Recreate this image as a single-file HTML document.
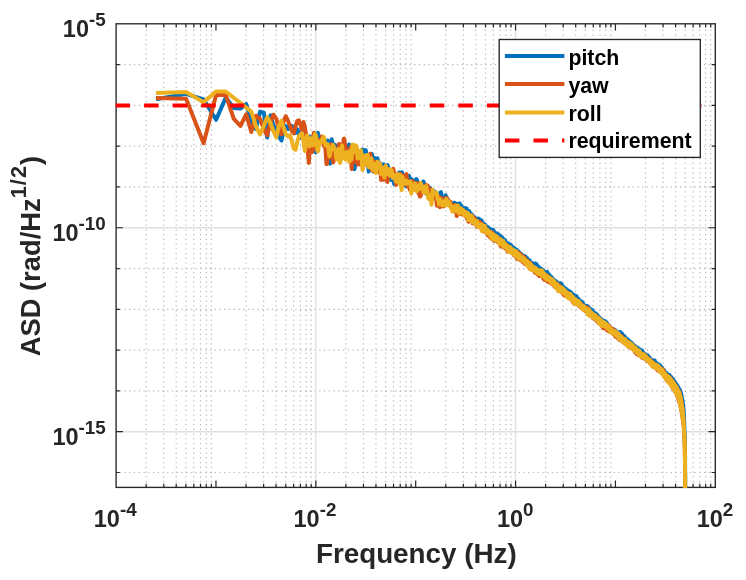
<!DOCTYPE html>
<html lang="en"><head><meta charset="utf-8"><title>ASD plot</title>
<style>html,body{margin:0;padding:0;background:#fff}svg{display:block;will-change:transform}</style></head>
<body>
<svg width="746" height="580" viewBox="0 0 746 580" font-family="'Liberation Sans', sans-serif" font-weight="bold" fill="#262626">
<rect width="746" height="580" fill="#ffffff"/>
<defs><clipPath id="ax"><rect x="115.40" y="23.10" width="600.60" height="465.00"/></clipPath></defs>
<g stroke="#b9b9b9" stroke-width="1.2" stroke-dasharray="1.3 3.45" fill="none"><line x1="146.16" y1="487.00" x2="146.16" y2="23.80"/><line x1="163.75" y1="487.00" x2="163.75" y2="23.80"/><line x1="176.23" y1="487.00" x2="176.23" y2="23.80"/><line x1="185.90" y1="487.00" x2="185.90" y2="23.80"/><line x1="193.81" y1="487.00" x2="193.81" y2="23.80"/><line x1="200.50" y1="487.00" x2="200.50" y2="23.80"/><line x1="206.29" y1="487.00" x2="206.29" y2="23.80"/><line x1="211.40" y1="487.00" x2="211.40" y2="23.80"/><line x1="246.03" y1="487.00" x2="246.03" y2="23.80"/><line x1="263.62" y1="487.00" x2="263.62" y2="23.80"/><line x1="276.09" y1="487.00" x2="276.09" y2="23.80"/><line x1="285.77" y1="487.00" x2="285.77" y2="23.80"/><line x1="293.68" y1="487.00" x2="293.68" y2="23.80"/><line x1="300.36" y1="487.00" x2="300.36" y2="23.80"/><line x1="306.16" y1="487.00" x2="306.16" y2="23.80"/><line x1="311.26" y1="487.00" x2="311.26" y2="23.80"/><line x1="345.90" y1="487.00" x2="345.90" y2="23.80"/><line x1="363.48" y1="487.00" x2="363.48" y2="23.80"/><line x1="375.96" y1="487.00" x2="375.96" y2="23.80"/><line x1="385.64" y1="487.00" x2="385.64" y2="23.80"/><line x1="393.54" y1="487.00" x2="393.54" y2="23.80"/><line x1="400.23" y1="487.00" x2="400.23" y2="23.80"/><line x1="406.02" y1="487.00" x2="406.02" y2="23.80"/><line x1="411.13" y1="487.00" x2="411.13" y2="23.80"/><line x1="445.76" y1="487.00" x2="445.76" y2="23.80"/><line x1="463.35" y1="487.00" x2="463.35" y2="23.80"/><line x1="475.83" y1="487.00" x2="475.83" y2="23.80"/><line x1="485.50" y1="487.00" x2="485.50" y2="23.80"/><line x1="493.41" y1="487.00" x2="493.41" y2="23.80"/><line x1="500.10" y1="487.00" x2="500.10" y2="23.80"/><line x1="505.89" y1="487.00" x2="505.89" y2="23.80"/><line x1="511.00" y1="487.00" x2="511.00" y2="23.80"/><line x1="545.63" y1="487.00" x2="545.63" y2="23.80"/><line x1="563.22" y1="487.00" x2="563.22" y2="23.80"/><line x1="575.69" y1="487.00" x2="575.69" y2="23.80"/><line x1="585.37" y1="487.00" x2="585.37" y2="23.80"/><line x1="593.28" y1="487.00" x2="593.28" y2="23.80"/><line x1="599.96" y1="487.00" x2="599.96" y2="23.80"/><line x1="605.76" y1="487.00" x2="605.76" y2="23.80"/><line x1="610.86" y1="487.00" x2="610.86" y2="23.80"/><line x1="645.50" y1="487.00" x2="645.50" y2="23.80"/><line x1="663.08" y1="487.00" x2="663.08" y2="23.80"/><line x1="675.56" y1="487.00" x2="675.56" y2="23.80"/><line x1="685.24" y1="487.00" x2="685.24" y2="23.80"/><line x1="693.14" y1="487.00" x2="693.14" y2="23.80"/><line x1="699.83" y1="487.00" x2="699.83" y2="23.80"/><line x1="705.62" y1="487.00" x2="705.62" y2="23.80"/><line x1="710.73" y1="487.00" x2="710.73" y2="23.80"/><line x1="116.10" y1="64.59" x2="715.30" y2="64.59" stroke-dashoffset="1.2"/><line x1="116.10" y1="105.38" x2="715.30" y2="105.38" stroke-dashoffset="1.2"/><line x1="116.10" y1="146.17" x2="715.30" y2="146.17" stroke-dashoffset="1.2"/><line x1="116.10" y1="186.96" x2="715.30" y2="186.96" stroke-dashoffset="1.2"/><line x1="116.10" y1="268.54" x2="715.30" y2="268.54" stroke-dashoffset="1.2"/><line x1="116.10" y1="309.33" x2="715.30" y2="309.33" stroke-dashoffset="1.2"/><line x1="116.10" y1="350.12" x2="715.30" y2="350.12" stroke-dashoffset="1.2"/><line x1="116.10" y1="390.91" x2="715.30" y2="390.91" stroke-dashoffset="1.2"/><line x1="116.10" y1="472.49" x2="715.30" y2="472.49" stroke-dashoffset="1.2"/></g>
<g stroke="#e0e0e0" stroke-width="1.4" fill="none"><line x1="315.83" y1="23.80" x2="315.83" y2="487.40"/><line x1="515.57" y1="23.80" x2="515.57" y2="487.40"/><line x1="116.10" y1="227.75" x2="715.30" y2="227.75"/><line x1="116.10" y1="431.70" x2="715.30" y2="431.70"/></g>
<g stroke="#262626" stroke-width="1.2" fill="none"><path d="M146.16 487.4v-3.7M146.16 23.8v3.7"/><path d="M163.75 487.4v-3.7M163.75 23.8v3.7"/><path d="M176.23 487.4v-3.7M176.23 23.8v3.7"/><path d="M185.90 487.4v-3.7M185.90 23.8v3.7"/><path d="M193.81 487.4v-3.7M193.81 23.8v3.7"/><path d="M200.50 487.4v-3.7M200.50 23.8v3.7"/><path d="M206.29 487.4v-3.7M206.29 23.8v3.7"/><path d="M211.40 487.4v-3.7M211.40 23.8v3.7"/><path d="M215.97 487.4v-6.8M215.97 23.8v6.8"/><path d="M246.03 487.4v-3.7M246.03 23.8v3.7"/><path d="M263.62 487.4v-3.7M263.62 23.8v3.7"/><path d="M276.09 487.4v-3.7M276.09 23.8v3.7"/><path d="M285.77 487.4v-3.7M285.77 23.8v3.7"/><path d="M293.68 487.4v-3.7M293.68 23.8v3.7"/><path d="M300.36 487.4v-3.7M300.36 23.8v3.7"/><path d="M306.16 487.4v-3.7M306.16 23.8v3.7"/><path d="M311.26 487.4v-3.7M311.26 23.8v3.7"/><path d="M315.83 487.4v-6.8M315.83 23.8v6.8"/><path d="M345.90 487.4v-3.7M345.90 23.8v3.7"/><path d="M363.48 487.4v-3.7M363.48 23.8v3.7"/><path d="M375.96 487.4v-3.7M375.96 23.8v3.7"/><path d="M385.64 487.4v-3.7M385.64 23.8v3.7"/><path d="M393.54 487.4v-3.7M393.54 23.8v3.7"/><path d="M400.23 487.4v-3.7M400.23 23.8v3.7"/><path d="M406.02 487.4v-3.7M406.02 23.8v3.7"/><path d="M411.13 487.4v-3.7M411.13 23.8v3.7"/><path d="M415.70 487.4v-6.8M415.70 23.8v6.8"/><path d="M445.76 487.4v-3.7M445.76 23.8v3.7"/><path d="M463.35 487.4v-3.7M463.35 23.8v3.7"/><path d="M475.83 487.4v-3.7M475.83 23.8v3.7"/><path d="M485.50 487.4v-3.7M485.50 23.8v3.7"/><path d="M493.41 487.4v-3.7M493.41 23.8v3.7"/><path d="M500.10 487.4v-3.7M500.10 23.8v3.7"/><path d="M505.89 487.4v-3.7M505.89 23.8v3.7"/><path d="M511.00 487.4v-3.7M511.00 23.8v3.7"/><path d="M515.57 487.4v-6.8M515.57 23.8v6.8"/><path d="M545.63 487.4v-3.7M545.63 23.8v3.7"/><path d="M563.22 487.4v-3.7M563.22 23.8v3.7"/><path d="M575.69 487.4v-3.7M575.69 23.8v3.7"/><path d="M585.37 487.4v-3.7M585.37 23.8v3.7"/><path d="M593.28 487.4v-3.7M593.28 23.8v3.7"/><path d="M599.96 487.4v-3.7M599.96 23.8v3.7"/><path d="M605.76 487.4v-3.7M605.76 23.8v3.7"/><path d="M610.86 487.4v-3.7M610.86 23.8v3.7"/><path d="M615.43 487.4v-6.8M615.43 23.8v6.8"/><path d="M645.50 487.4v-3.7M645.50 23.8v3.7"/><path d="M663.08 487.4v-3.7M663.08 23.8v3.7"/><path d="M675.56 487.4v-3.7M675.56 23.8v3.7"/><path d="M685.24 487.4v-3.7M685.24 23.8v3.7"/><path d="M693.14 487.4v-3.7M693.14 23.8v3.7"/><path d="M699.83 487.4v-3.7M699.83 23.8v3.7"/><path d="M705.62 487.4v-3.7M705.62 23.8v3.7"/><path d="M710.73 487.4v-3.7M710.73 23.8v3.7"/><path d="M116.1 64.59h3.7M715.3 64.59h-3.7"/><path d="M116.1 105.38h3.7M715.3 105.38h-3.7"/><path d="M116.1 146.17h3.7M715.3 146.17h-3.7"/><path d="M116.1 186.96h3.7M715.3 186.96h-3.7"/><path d="M116.1 227.75h6.8M715.3 227.75h-6.8"/><path d="M116.1 268.54h3.7M715.3 268.54h-3.7"/><path d="M116.1 309.33h3.7M715.3 309.33h-3.7"/><path d="M116.1 350.12h3.7M715.3 350.12h-3.7"/><path d="M116.1 390.91h3.7M715.3 390.91h-3.7"/><path d="M116.1 431.70h6.8M715.3 431.70h-6.8"/><path d="M116.1 472.49h3.7M715.3 472.49h-3.7"/></g>
<rect x="116.1" y="23.8" width="599.20" height="463.60" fill="none" stroke="#262626" stroke-width="1.35"/>
<g clip-path="url(#ax)">
<polyline points="156.0,99.3 186.1,93.9 203.6,99.5 216.1,119.8 225.8,97.5 233.7,108.0 240.4,108.6 246.2,104.0 251.3,121.0 255.9,129.0 260.0,111.6 263.8,112.6 267.2,137.4 270.5,115.2 273.5,126.0 276.3,129.0 278.9,136.4 281.4,140.5 283.7,131.0 285.9,126.0 288.0,129.0 290.1,127.0 292.0,126.0 293.8,129.0 295.6,133.0 297.3,129.3 297.7,129.7 298.1,130.8 298.6,132.5 299.0,134.5 299.4,136.4 299.8,137.7 300.2,137.8 300.7,136.8 301.1,135.2 301.5,133.9 301.9,133.3 302.3,133.6 302.8,134.2 303.2,134.4 303.6,133.6 304.0,132.2 304.4,131.1 304.9,131.3 305.3,133.4 305.7,137.4 306.1,142.2 306.5,145.9 307.0,147.3 307.4,146.5 307.8,144.4 308.2,141.8 308.6,139.2 309.1,137.4 309.5,136.6 309.9,136.9 310.3,138.3 310.7,140.3 311.2,142.1 311.6,142.9 312.0,142.5 312.4,141.4 312.8,140.4 313.3,140.1 313.7,141.0 314.1,143.2 314.5,146.5 314.9,149.8 315.4,152.1 315.8,152.2 316.2,149.0 316.6,143.4 317.0,137.7 317.5,134.0 317.9,132.9 318.3,134.1 318.7,136.9 319.1,140.0 319.6,141.2 320.0,140.3 320.4,138.8 320.8,138.0 321.2,138.0 321.7,138.1 322.1,138.4 322.5,139.4 322.9,140.9 323.3,142.1 323.8,143.0 324.2,143.7 324.6,144.5 325.0,145.4 325.4,146.6 325.9,148.0 326.3,148.2 326.7,146.1 327.1,142.7 327.5,140.5 328.0,141.1 328.4,144.6 328.8,150.0 329.2,156.7 329.6,162.5 330.1,163.6 330.5,157.8 330.9,148.5 331.3,141.4 331.7,139.3 332.2,141.6 332.6,146.0 333.0,149.5 333.4,150.8 333.8,150.3 334.3,148.4 334.7,145.8 335.1,144.8 335.5,146.9 335.9,150.5 336.4,151.4 336.8,148.8 337.2,146.8 337.6,147.9 338.0,151.8 338.5,155.0 338.9,154.1 339.3,151.4 339.7,150.0 340.1,149.2 340.6,148.9 341.0,151.8 341.4,156.5 341.8,156.6 342.2,151.6 342.7,147.1 343.1,145.0 343.5,146.1 343.9,149.9 344.3,151.5 344.8,148.2 345.2,145.0 345.6,146.1 346.0,149.9 346.4,151.5 346.9,151.8 347.3,153.9 347.7,153.7 348.1,149.1 348.5,145.6 349.0,144.6 349.4,146.8 349.8,152.9 350.2,155.5 350.6,151.3 351.1,146.2 351.5,145.5 351.9,148.0 352.3,149.8 352.7,150.5 353.2,152.3 353.6,159.7 354.0,169.0 354.4,169.1 354.8,167.7 355.3,161.5 355.7,158.3 356.1,156.7 356.5,156.1 356.9,153.3 357.4,151.1 357.8,152.6 358.2,156.6 358.6,157.4 359.0,154.3 359.5,151.6 359.9,151.5 360.3,153.6 360.7,158.4 361.1,159.0 361.6,156.6 362.0,152.9 362.4,149.4 362.8,150.3 363.2,156.3 363.7,159.7 364.1,155.4 364.5,153.2 364.9,152.4 365.3,150.1 365.8,150.2 366.2,153.4 366.6,157.2 367.0,160.9 367.4,164.6 367.9,164.3 368.3,166.6 368.7,171.6 369.1,167.5 369.5,159.2 370.0,159.0 370.4,160.6 370.8,156.8 371.2,154.4 371.6,153.8 372.1,154.2 372.5,156.8 372.9,163.6 373.3,171.5 373.7,171.4 374.2,163.0 374.6,158.1 375.0,159.5 375.4,162.6 375.8,163.7 376.3,161.3 376.7,159.2 377.1,159.2 377.5,158.4 377.9,160.5 378.4,165.8 378.8,169.9 379.2,167.8 379.6,162.9 380.0,165.0 380.5,168.6 380.9,168.3 381.3,167.2 381.7,166.5 382.1,168.7 382.6,168.4 383.0,165.0 383.4,164.3 383.8,165.6 384.2,168.0 384.7,172.1 385.1,175.2 385.5,178.0 385.9,177.1 386.3,172.1 386.8,167.8 387.2,165.5 387.6,165.2 388.0,166.7 388.4,168.5 388.9,168.7 389.3,170.0 389.7,170.8 390.1,170.5 390.5,173.6 391.0,179.9 391.4,179.3 391.8,172.8 392.2,170.4 392.6,171.0 393.1,174.4 393.5,180.0 393.9,182.6 394.3,184.3 394.7,182.3 395.2,176.0 395.6,173.8 396.0,175.9 396.4,178.0 396.8,178.1 397.3,180.2 397.7,183.3 398.1,182.7 398.5,177.6 398.9,172.5 399.4,172.5 399.8,177.1 400.2,177.4 400.6,174.0 401.0,173.0 401.5,172.4 401.9,172.3 402.3,174.1 402.7,175.2 403.1,177.1 403.6,179.8 404.0,180.6 404.4,181.3 404.8,181.4 405.2,180.9 405.7,183.3 406.1,186.4 406.5,185.8 406.9,184.3 407.3,181.7 407.8,181.7 408.2,180.2 408.6,176.2 409.0,175.8 409.4,179.4 409.9,178.8 410.3,178.3 410.7,180.8 411.1,182.8 411.5,182.7 412.0,180.5 412.4,179.9 412.8,181.9 413.2,182.5 413.6,184.5 414.1,188.0 414.5,188.6 414.9,185.3 415.3,182.9 415.7,180.9 416.2,179.1 416.6,179.4 417.0,180.1 417.4,181.3 417.8,184.1 418.3,188.0 418.7,192.9 419.1,190.3 419.5,184.1 419.9,183.5 420.4,184.8 420.8,187.6 421.2,190.0 421.6,191.5 422.0,191.4 422.5,189.6 422.9,184.7 423.3,181.4 423.7,181.9 424.1,183.7 424.6,185.2 425.0,187.8 425.4,192.2 425.8,193.4 426.2,193.5 426.7,193.3 427.1,192.7 427.5,189.9 427.9,188.8 428.3,188.8 428.8,192.0 429.2,192.9 429.6,188.3 430.0,187.8 430.4,189.9 430.9,189.8 431.3,190.0 431.7,193.6 432.1,196.0 432.5,196.9 433.0,193.6 433.4,190.8 433.8,191.9 434.2,194.1 434.6,191.6 435.1,192.4 435.5,196.2 435.9,198.9 436.3,196.4 436.7,195.4 437.2,198.1 437.6,197.4 438.0,195.3 438.4,195.1 438.8,193.7 439.3,193.8 439.7,195.3 440.1,196.7 440.5,192.4 440.9,192.2 441.4,195.4 441.8,199.6 442.2,201.7 442.6,202.6 443.0,198.5 443.5,199.5 443.9,201.1 444.3,204.0 444.7,200.9 445.1,197.5 445.6,195.3 446.0,196.7 446.4,196.9 446.8,200.3 447.2,199.5 447.7,200.0 448.1,199.9 448.5,203.9 448.9,202.1 449.3,202.8 449.8,202.1 450.2,203.9 450.6,204.1 451.0,206.8 451.4,203.3 451.9,205.3 452.3,205.3 452.7,207.6 453.1,205.1 453.5,205.2 454.0,202.8 454.4,204.1 454.8,202.8 455.2,205.8 455.6,205.5 456.1,206.9 456.5,203.8 456.9,205.2 457.3,204.6 457.7,208.9 458.2,205.8 458.6,206.7 459.0,203.5 459.4,205.4 459.8,203.5 460.3,207.9 460.7,206.5 461.1,208.1 461.5,205.8 461.9,208.1 462.4,208.3 462.8,210.7 463.2,210.0 463.6,213.2 464.0,209.7 464.5,209.8 464.9,208.1 465.3,211.3 465.7,208.3 466.1,211.0 466.6,208.4 467.0,212.3 467.4,211.5 467.8,215.1 468.2,212.6 468.7,216.0 469.1,211.1 469.5,215.0 469.9,212.9 470.3,216.2 470.8,213.3 471.2,218.7 471.6,217.6 472.0,220.2 472.4,215.1 472.9,219.1 473.3,217.1 473.7,219.3 474.1,218.0 474.5,219.7 475.0,217.7 475.4,219.3 475.8,218.8 476.2,222.8 476.6,219.4 477.1,221.8 477.5,219.7 477.9,222.4 478.3,218.5 478.7,222.8 479.2,219.8 479.6,223.0 480.0,219.6 480.4,223.6 480.8,221.3 481.3,225.2 481.7,220.6 482.1,225.4 482.5,223.0 482.9,226.5 483.4,223.3 483.8,227.7 484.2,225.8 484.6,230.0 485.0,224.6 485.5,229.6 485.9,225.8 486.3,230.3 486.7,227.3 487.1,231.6 487.6,227.1 488.0,231.6 488.4,227.6 488.8,232.0 489.2,229.1 489.7,233.0 490.1,229.1 490.5,233.0 490.9,229.2 491.3,235.3 491.8,230.9 492.2,235.4 492.6,230.9 493.0,237.5 493.4,230.1 493.9,236.2 494.3,231.8 494.7,237.6 495.1,233.8 495.5,236.8 496.0,233.2 496.4,236.2 496.8,233.7 497.2,237.7 497.6,233.5 498.1,239.1 498.5,234.7 498.9,239.9 499.3,235.1 499.7,241.3 500.2,235.8 500.6,241.5 501.0,237.0 501.4,241.7 501.8,236.9 502.3,241.9 502.7,238.0 503.1,242.7 503.5,239.3 503.9,242.8 504.4,240.2 504.8,244.0 505.2,240.3 505.6,245.6 506.0,242.5 506.5,246.1 506.9,243.1 507.3,246.8 507.7,243.2 508.1,246.4 508.6,243.5 509.0,247.5 509.4,244.3 509.8,248.7 510.2,244.6 510.7,247.8 511.1,245.3 511.5,248.8 511.9,246.9 512.3,250.0 512.8,247.1 513.2,250.6 513.6,247.8 514.0,251.4 514.4,248.6 514.9,251.9 515.3,249.0 515.7,252.5 516.1,250.0 516.5,253.8 517.0,250.1 517.4,255.1 517.8,251.3 518.2,254.8 518.6,251.6 519.1,255.4 519.5,252.5 519.9,256.5 520.3,253.8 520.7,257.8 521.2,253.9 521.6,258.9 522.0,255.0 522.4,259.7 522.8,255.4 523.3,260.6 523.7,255.7 524.1,260.1 524.5,256.2 524.9,260.8 525.4,256.6 525.8,261.8 526.2,257.7 526.6,262.1 527.0,258.1 527.5,263.0 527.9,259.2 528.3,262.9 528.7,260.1 529.1,263.6 529.6,260.2 530.0,263.7 530.4,261.9 530.8,265.3 531.2,262.6 531.7,265.8 532.1,263.0 532.5,266.5 532.9,263.3 533.3,267.7 533.8,263.7 534.2,268.2 534.6,263.7 535.0,268.4 535.4,263.6 535.9,268.5 536.3,264.1 536.7,269.4 537.1,264.9 537.5,270.6 538.0,266.2 538.4,271.8 538.8,266.9 539.2,271.7 539.6,268.1 540.1,271.8 540.5,269.0 540.9,271.7 541.3,268.7 541.7,272.3 542.2,269.6 542.6,272.7 543.0,269.9 543.4,273.9 543.8,270.9 544.3,274.6 544.7,272.0 545.1,276.1 545.5,272.3 545.9,276.1 546.4,272.0 546.8,277.5 547.2,272.0 547.6,277.6 548.0,274.0 548.5,278.1 548.9,274.3 549.3,278.5 549.7,275.2 550.1,279.7 550.6,276.4 551.0,280.8 551.4,277.0 551.8,281.4 552.2,277.8 552.7,282.5 553.1,279.3 553.5,283.1 553.9,280.1 554.3,283.8 554.8,280.4 555.2,284.2 555.6,281.7 556.0,285.4 556.4,281.5 556.9,286.2 557.3,282.6 557.7,287.0 558.1,283.4 558.5,288.3 559.0,283.6 559.4,287.8 559.8,283.8 560.2,289.1 560.6,283.3 561.1,289.2 561.5,284.0 561.9,289.5 562.3,285.5 562.7,290.6 563.2,286.4 563.6,290.7 564.0,287.4 564.4,291.8 564.8,288.3 565.3,292.9 565.7,288.5 566.1,293.2 566.5,289.8 566.9,294.2 567.4,290.3 567.8,294.3 568.2,290.6 568.6,295.1 569.0,290.9 569.5,296.0 569.9,292.4 570.3,295.6 570.7,292.1 571.1,296.4 571.6,293.0 572.0,297.4 572.4,294.0 572.8,298.6 573.2,294.6 573.7,298.9 574.1,295.5 574.5,300.2 574.9,295.6 575.3,300.3 575.8,296.4 576.2,301.2 576.6,296.3 577.0,302.0 577.4,297.9 577.9,302.3 578.3,298.8 578.7,303.4 579.1,299.5 579.5,303.3 580.0,300.6 580.4,304.4 580.8,301.3 581.2,305.8 581.6,301.7 582.1,305.2 582.5,302.2 582.9,306.6 583.3,304.0 583.7,306.7 584.2,305.1 584.6,307.7 585.0,305.9 585.4,309.1 585.8,306.4 586.3,310.1 586.7,305.8 587.1,310.7 587.5,306.2 587.9,311.1 588.4,306.8 588.8,311.5 589.2,308.1 589.6,311.7 590.0,309.3 590.5,312.9 590.9,309.2 591.3,314.4 591.7,310.0 592.1,315.0 592.6,310.3 593.0,315.7 593.4,312.0 593.8,315.3 594.2,312.8 594.7,316.2 595.1,313.3 595.5,317.2 595.9,313.6 596.3,317.7 596.8,314.4 597.2,318.4 597.6,315.2 598.0,319.4 598.4,316.9 598.9,320.3 599.3,317.4 599.7,321.3 600.1,318.3 600.5,322.6 601.0,319.4 601.4,323.4 601.8,319.4 602.2,324.2 602.6,320.2 603.1,324.4 603.5,321.2 603.9,324.1 604.3,320.9 604.7,324.3 605.2,321.3 605.6,324.7 606.0,322.0 606.4,325.3 606.8,322.7 607.3,326.2 607.7,324.3 608.1,328.2 608.5,325.8 608.9,329.2 609.4,326.4 609.8,329.8 610.2,327.5 610.6,330.1 611.0,328.7 611.5,331.4 611.9,328.9 612.3,332.3 612.7,329.2 613.1,332.9 613.6,329.2 614.0,334.2 614.4,330.1 614.8,334.4 615.2,330.2 615.7,335.0 616.1,331.1 616.5,335.1 616.9,331.6 617.3,335.3 617.8,332.5 618.2,336.1 618.6,332.5 619.0,336.3 619.4,332.3 619.9,335.8 620.3,332.1 620.7,336.7 621.1,333.0 621.5,336.8 622.0,333.4 622.4,337.2 622.8,335.0 623.2,337.9 623.6,336.3 624.1,339.3 624.5,336.2 624.9,340.3 625.3,337.6 625.7,341.1 626.2,338.4 626.6,342.0 627.0,339.1 627.4,342.4 627.8,339.7 628.3,343.7 628.7,340.6 629.1,343.8 629.5,341.3 629.9,344.4 630.4,342.0 630.8,345.5 631.2,342.6 631.6,346.2 632.0,343.3 632.5,347.0 632.9,344.3 633.3,348.9 633.7,345.4 634.1,349.4 634.6,345.8 635.0,349.3 635.4,346.4 635.8,350.4 636.2,347.1 636.7,350.6 637.1,347.6 637.5,351.3 637.9,348.1 638.3,351.8 638.8,349.2 639.2,351.6 639.6,349.1 640.0,352.6 640.4,350.1 640.9,353.6 641.3,350.4 641.7,354.3 642.1,350.6 642.5,355.1 643.0,352.3 643.4,356.5 643.8,353.3 644.2,356.5 644.6,353.8 645.1,357.2 645.5,354.5 645.9,358.2 646.3,355.0 646.7,358.2 647.2,355.2 647.6,358.6 648.0,355.7 648.4,359.5 648.8,356.7 649.3,360.5 649.7,357.8 650.1,361.9 650.5,359.2 650.9,362.9 651.4,359.9 651.8,363.0 652.2,360.3 652.6,364.3 653.0,360.3 653.5,363.9 653.9,360.4 654.3,364.3 654.7,360.6 655.1,365.7 655.6,362.3 656.0,365.6 656.4,362.9 656.8,366.4 657.2,363.8 657.7,367.5 658.1,364.2 658.5,368.6 658.9,364.4 659.3,368.9 659.8,364.9 660.2,369.7 660.6,366.1 661.0,370.1 661.4,366.8 661.9,370.8 662.3,368.1 662.7,371.6 663.1,369.6 663.5,372.2 664.0,370.2 664.4,372.9 664.8,371.9 665.2,375.1 665.6,372.7 666.1,375.6 666.5,373.0 666.9,376.5 669.4,374.9 667.2,377.5 669.8,375.8 667.7,378.2 670.5,376.5 668.4,378.8 671.1,377.2 668.9,379.5 671.8,377.7 669.5,380.2 672.2,378.7 670.0,380.9 673.0,379.3 670.5,381.7 673.3,380.2 671.2,382.3 674.0,380.9 671.7,383.1 674.6,381.6 672.3,383.7 674.9,382.4 672.7,384.5 675.6,383.1 673.2,385.3 675.9,384.0 673.5,386.2 676.6,384.6 674.2,386.8 677.1,385.4 674.7,387.6 677.6,386.1 675.3,388.2 678.1,387.0 675.5,389.2 678.6,387.8 676.3,389.7 679.0,388.6 676.7,390.5 679.4,389.4 677.2,391.3 680.1,390.2 677.7,392.0 680.2,391.3 677.8,393.0 680.8,392.2 678.4,393.7 681.1,393.2 678.8,394.5 681.3,394.1 679.1,395.3 681.4,395.1 679.2,396.2 681.7,396.0 679.6,397.1 681.8,396.9 679.6,398.0 681.9,397.9 680.1,398.8 682.2,398.7 680.3,399.7 682.4,399.6 680.6,400.5 682.6,400.5 680.8,401.4 682.7,401.4 680.8,402.3 682.8,402.3 681.3,403.1 682.9,403.2 681.4,404.0 682.9,404.2 681.5,404.9 683.2,405.1 681.6,405.8 683.2,406.0 681.8,406.7 683.3,406.9 682.0,407.6 683.3,407.9 682.2,408.5 683.5,408.7 682.3,409.4 683.6,409.6 682.5,410.2 683.6,410.6 682.6,411.1 683.7,411.5 682.8,412.0 683.7,412.4 682.9,412.9 683.7,413.3 683.0,413.8 683.8,414.2 683.1,414.7 683.9,415.1 683.2,415.6 683.9,416.0 683.3,416.5 684.0,416.9 683.4,417.4 684.0,417.8 683.5,418.3 684.0,418.7 683.7,419.2 684.1,419.6 683.8,420.1 684.1,420.5 683.8,421.0 684.2,421.4 683.9,421.9 684.2,422.3 684.0,422.8 684.3,423.2 684.0,423.7 684.3,424.1 684.1,424.6 684.3,425.0 684.2,425.5 684.4,425.9 684.3,426.4 684.4,426.8 684.3,427.3 684.4,427.7 684.4,428.2 684.4,428.6 684.4,429.1 684.5,429.5 684.5,430.0 684.5,430.4 684.5,430.9 684.5,431.3 684.5,431.8 684.6,432.2 684.6,432.7 684.6,433.1 684.6,433.6 684.6,434.0 684.7,434.5 684.7,434.9 684.7,435.4 684.7,435.8 684.7,436.3 684.7,436.7 684.7,437.2 684.8,437.6 684.8,438.1 684.8,438.5 684.8,439.0 684.8,439.4 684.8,439.9 684.8,440.3 684.8,440.8 684.9,441.2 684.9,441.7 684.9,442.1 684.9,442.6 684.9,443.0 684.9,443.5 684.9,443.9 684.9,444.4 684.9,444.8 684.9,445.3 684.9,445.7 684.9,446.2 684.9,446.6 685.0,447.1 685.0,447.5 685.0,448.0 685.0,448.4 685.0,448.9 685.0,449.3 685.0,449.8 685.0,450.2 685.0,450.7 685.0,451.1 685.0,451.6 685.0,452.0 685.0,452.5 685.0,452.9 685.0,453.4 685.0,453.8 685.0,454.3 685.0,454.7 685.1,455.2 685.1,455.6 685.1,456.1 685.1,456.5 685.1,457.0 685.1,457.4 685.1,457.9 685.1,458.3 685.1,458.8 685.1,459.2 685.1,459.7 685.1,460.1 685.1,460.6 685.1,461.0 685.1,461.5 685.1,461.9 685.1,462.4 685.1,462.8 685.1,463.3 685.1,463.7 685.1,464.2 685.1,464.6 685.1,465.1 685.1,465.5 685.1,466.0 685.1,466.4 685.1,466.9 685.1,467.3 685.1,467.8 685.1,468.2 685.1,468.7 685.1,469.1 685.1,469.6 685.1,470.0 685.1,470.5 685.1,470.9 685.1,471.4 685.2,471.8 685.2,472.3 685.2,472.7 685.2,473.2 685.2,473.6 685.2,474.1 685.2,474.5 685.2,475.0 685.2,475.4 685.2,475.9 685.2,476.3 685.2,476.8 685.2,477.2 685.2,477.7 685.2,478.1 685.2,478.6 685.2,479.0 685.2,479.5 685.2,479.9 685.2,480.4 685.2,480.8 685.2,481.3 685.2,481.7 685.2,482.2 685.2,482.6 685.2,483.1 685.2,483.5 685.2,484.0 685.2,484.4 685.2,484.9 685.2,485.3 685.2,485.8 685.2,486.2 685.2,486.7 685.2,487.1 685.2,487.6 685.2,488.0 685.2,488.5 685.2,488.9 685.2,489.4 685.2,489.8 685.2,490.3 685.2,490.7 685.2,491.2 685.2,491.6 685.2,492.1 685.2,492.5 685.2,493.0 685.2,493.4 685.2,493.9 685.2,494.3 685.2,494.8 685.2,495.2 685.2,495.7 685.2,496.1 685.2,496.6 685.2,497.0 685.2,497.5 685.2,497.9 685.2,498.4 685.2,498.8 685.2,499.1 685.2,499.4" fill="none" stroke="#0072BD" stroke-width="4.0" stroke-linejoin="round" stroke-linecap="butt"/>
<polyline points="156.0,98.1 186.1,98.7 203.6,143.3 216.1,95.1 225.8,95.0 233.7,118.6 240.4,126.0 246.2,114.3 251.3,132.0 255.9,115.7 260.0,118.8 263.8,129.0 267.2,135.3 270.5,121.9 273.5,114.7 276.3,118.8 278.9,129.0 281.4,134.3 283.7,120.9 285.9,116.2 288.0,120.9 290.1,126.0 292.0,131.2 293.8,133.3 295.6,126.0 297.3,120.9 298.9,120.3 300.5,125.0 302.0,130.2 303.5,122.0 304.9,127.0 306.3,136.0 307.6,150.0 308.9,163.0 310.2,141.0 311.4,149.7 311.8,152.1 312.3,151.5 312.7,146.8 313.1,139.9 313.5,134.6 313.9,132.7 314.4,134.3 314.8,138.2 315.2,142.8 315.6,146.5 316.0,148.6 316.5,149.1 316.9,148.4 317.3,147.3 317.7,146.1 318.1,144.6 318.6,142.4 319.0,140.6 319.4,140.0 319.8,140.7 320.2,141.9 320.7,141.9 321.1,140.2 321.5,137.8 321.9,136.5 322.3,137.1 322.8,139.5 323.2,142.8 323.6,145.3 324.0,146.1 324.4,145.8 324.9,145.9 325.3,147.9 325.7,152.5 326.1,159.0 326.5,164.1 327.0,163.9 327.4,159.6 327.8,156.0 328.2,155.7 328.6,157.3 329.1,157.8 329.5,155.6 329.9,151.2 330.3,147.0 330.7,144.7 331.2,144.2 331.6,144.8 332.0,146.9 332.4,151.7 332.8,158.3 333.3,162.4 333.7,160.4 334.1,155.9 334.5,155.1 334.9,157.6 335.4,158.0 335.8,154.4 336.2,151.2 336.6,151.1 337.0,152.9 337.5,154.4 337.9,153.4 338.3,149.4 338.7,145.4 339.1,144.0 339.6,145.8 340.0,149.9 340.4,153.3 340.8,153.9 341.2,151.5 341.7,146.9 342.1,144.6 342.5,146.1 342.9,146.3 343.3,142.3 343.8,138.7 344.2,138.6 344.6,141.9 345.0,144.6 345.4,145.7 345.9,150.4 346.3,153.9 346.7,151.7 347.1,152.8 347.5,154.5 348.0,152.4 348.4,150.6 348.8,151.2 349.2,157.6 349.6,161.7 350.1,154.1 350.5,146.9 350.9,149.2 351.3,163.5 351.7,168.9 352.2,159.4 352.6,155.4 353.0,157.5 353.4,157.0 353.8,151.9 354.3,149.0 354.7,147.9 355.1,151.4 355.5,156.8 355.9,162.2 356.4,160.2 356.8,153.2 357.2,150.2 357.6,154.2 358.0,164.6 358.5,164.6 358.9,155.2 359.3,152.4 359.7,156.0 360.1,157.5 360.6,157.2 361.0,159.7 361.4,162.5 361.8,162.8 362.2,162.8 362.7,161.8 363.1,160.3 363.5,160.5 363.9,162.8 364.3,162.3 364.8,160.5 365.2,160.3 365.6,160.2 366.0,161.7 366.4,164.8 366.9,162.5 367.3,157.3 367.7,157.6 368.1,159.0 368.5,159.1 369.0,161.0 369.4,160.4 369.8,156.4 370.2,153.7 370.6,155.7 371.1,164.1 371.5,169.8 371.9,162.8 372.3,159.6 372.7,166.0 373.2,171.3 373.6,170.9 374.0,168.7 374.4,169.1 374.8,166.3 375.3,162.1 375.7,162.6 376.1,164.5 376.5,166.4 376.9,169.9 377.4,170.8 377.8,171.2 378.2,171.2 378.6,171.6 379.0,167.8 379.5,163.2 379.9,165.7 380.3,170.9 380.7,174.6 381.1,179.9 381.6,178.2 382.0,171.8 382.4,171.3 382.8,172.6 383.2,174.4 383.7,179.8 384.1,179.2 384.5,172.5 384.9,167.5 385.3,166.3 385.8,168.7 386.2,172.0 386.6,174.0 387.0,180.6 387.4,182.0 387.9,172.9 388.3,171.8 388.7,176.6 389.1,175.4 389.5,171.8 390.0,172.6 390.4,175.2 390.8,175.4 391.2,172.6 391.6,172.4 392.1,174.5 392.5,175.3 392.9,172.0 393.3,168.8 393.7,170.9 394.2,176.4 394.6,177.1 395.0,176.9 395.4,178.6 395.8,182.2 396.3,184.8 396.7,183.5 397.1,183.3 397.5,182.2 397.9,178.1 398.4,174.8 398.8,176.7 399.2,180.2 399.6,178.9 400.0,176.8 400.5,175.2 400.9,173.8 401.3,175.0 401.7,176.7 402.1,175.5 402.6,176.5 403.0,182.3 403.4,185.0 403.8,181.5 404.2,180.4 404.7,183.7 405.1,181.6 405.5,176.2 405.9,174.4 406.3,174.0 406.8,176.5 407.2,185.1 407.6,186.2 408.0,180.5 408.4,181.7 408.9,184.4 409.3,186.9 409.7,189.8 410.1,189.3 410.5,185.7 411.0,185.0 411.4,189.5 411.8,190.0 412.2,183.2 412.6,181.1 413.1,181.9 413.5,182.4 413.9,185.1 414.3,189.3 414.7,189.4 415.2,187.0 415.6,185.7 416.0,185.9 416.4,187.1 416.8,185.0 417.3,183.1 417.7,184.7 418.1,189.5 418.5,193.3 418.9,191.2 419.4,191.9 419.8,196.6 420.2,196.4 420.6,196.2 421.0,194.9 421.5,191.2 421.9,188.2 422.3,188.2 422.7,187.3 423.1,186.9 423.6,189.3 424.0,190.9 424.4,192.0 424.8,190.3 425.2,186.6 425.7,186.2 426.1,185.1 426.5,185.2 426.9,187.3 427.3,186.8 427.8,185.7 428.2,188.8 428.6,194.3 429.0,198.7 429.4,197.7 429.9,192.1 430.3,189.1 430.7,191.2 431.1,195.4 431.5,198.4 432.0,198.7 432.4,197.3 432.8,195.3 433.2,193.8 433.6,194.4 434.1,197.7 434.5,196.9 434.9,193.7 435.3,193.2 435.7,196.0 436.2,198.8 436.6,202.7 437.0,205.8 437.4,201.1 437.8,196.2 438.3,196.2 438.7,196.3 439.1,198.4 439.5,201.8 439.9,207.2 440.4,206.8 440.8,202.5 441.2,198.2 441.6,199.2 442.0,198.2 442.5,200.1 442.9,201.5 443.3,204.9 443.7,206.4 444.1,204.5 444.6,200.5 445.0,202.0 445.4,201.2 445.8,200.0 446.2,197.8 446.7,199.5 447.1,198.3 447.5,199.3 447.9,200.6 448.3,204.2 448.8,203.4 449.2,204.9 449.6,202.6 450.0,202.8 450.4,201.7 450.9,205.9 451.3,205.9 451.7,207.8 452.1,206.4 452.5,208.6 453.0,209.0 453.4,208.9 453.8,204.8 454.2,207.0 454.6,205.2 455.1,206.5 455.5,205.1 455.9,211.7 456.3,212.1 456.7,216.1 457.2,215.1 457.6,214.3 458.0,208.7 458.4,211.1 458.8,209.9 459.3,213.4 459.7,212.3 460.1,213.8 460.5,208.8 460.9,210.2 461.4,210.2 461.8,214.6 462.2,211.5 462.6,213.6 463.0,209.9 463.5,214.5 463.9,211.5 464.3,213.7 464.7,212.0 465.1,216.1 465.6,214.2 466.0,216.1 466.4,213.6 466.8,218.5 467.2,215.9 467.7,218.5 468.1,217.4 468.5,221.8 468.9,215.5 469.3,219.0 469.8,215.4 470.2,220.0 470.6,216.7 471.0,218.4 471.4,215.6 471.9,219.7 472.3,216.9 472.7,223.4 473.1,220.1 473.5,220.9 474.0,217.5 474.4,220.8 474.8,219.5 475.2,223.1 475.6,219.7 476.1,224.6 476.5,220.3 476.9,226.5 477.3,221.5 477.7,226.0 478.2,221.7 478.6,226.5 479.0,221.4 479.4,226.4 479.8,222.2 480.3,227.5 480.7,222.7 481.1,228.2 481.5,224.3 481.9,228.4 482.4,224.1 482.8,231.2 483.2,225.7 483.6,231.4 484.0,227.5 484.5,231.1 484.9,226.2 485.3,231.8 485.7,228.7 486.1,232.6 486.6,229.0 487.0,233.8 487.4,230.7 487.8,235.4 488.2,230.3 488.7,235.4 489.1,232.2 489.5,236.2 489.9,232.0 490.3,237.8 490.8,232.2 491.2,236.9 491.6,233.4 492.0,239.1 492.4,232.4 492.9,239.1 493.3,234.1 493.7,240.7 494.1,235.4 494.5,241.0 495.0,236.1 495.4,240.4 495.8,237.1 496.2,240.3 496.6,236.7 497.1,241.3 497.5,237.3 497.9,242.3 498.3,238.4 498.7,242.5 499.2,238.6 499.6,243.7 500.0,240.6 500.4,245.9 500.8,240.4 501.3,244.7 501.7,241.4 502.1,246.7 502.5,242.1 502.9,246.7 503.4,242.2 503.8,247.5 504.2,243.1 504.6,247.6 505.0,243.7 505.5,248.6 505.9,244.4 506.3,249.1 506.7,245.1 507.1,250.5 507.6,245.8 508.0,251.7 508.4,246.4 508.8,251.0 509.2,246.9 509.7,250.5 510.1,248.0 510.5,251.3 510.9,249.1 511.3,251.9 511.8,250.3 512.2,253.1 512.6,251.1 513.0,254.0 513.4,251.8 513.9,255.2 514.3,252.0 514.7,255.7 515.1,252.5 515.5,256.2 516.0,252.0 516.4,257.7 516.8,252.6 517.2,259.0 517.6,252.0 518.1,258.1 518.5,253.1 518.9,259.0 519.3,253.3 519.7,259.2 520.2,255.4 520.6,260.3 521.0,254.6 521.4,260.2 521.8,255.8 522.3,261.5 522.7,256.6 523.1,262.4 523.5,256.7 523.9,262.8 524.4,257.6 524.8,263.9 525.2,258.8 525.6,264.1 526.0,259.7 526.5,264.4 526.9,260.4 527.3,265.2 527.7,260.8 528.1,265.7 528.6,262.0 529.0,266.4 529.4,262.6 529.8,268.7 530.2,262.8 530.7,268.7 531.1,264.3 531.5,269.0 531.9,266.0 532.3,269.9 532.8,266.4 533.2,270.5 533.6,266.9 534.0,270.6 534.4,267.4 534.9,272.8 535.3,268.5 535.7,272.4 536.1,269.3 536.5,273.2 537.0,270.0 537.4,274.4 537.8,270.9 538.2,274.8 538.6,270.4 539.1,276.2 539.5,270.8 539.9,275.0 540.3,271.4 540.7,275.5 541.2,270.9 541.6,276.1 542.0,272.0 542.4,276.8 542.8,272.7 543.3,278.5 543.7,273.5 544.1,279.6 544.5,273.7 544.9,280.1 545.4,274.6 545.8,279.7 546.2,275.3 546.6,280.4 547.0,275.6 547.5,281.5 547.9,276.0 548.3,281.9 548.7,277.4 549.1,282.0 549.6,278.7 550.0,282.8 550.4,279.5 550.8,283.1 551.2,280.4 551.7,283.9 552.1,280.2 552.5,284.6 552.9,281.4 553.3,285.1 553.8,281.7 554.2,286.3 554.6,282.4 555.0,287.2 555.4,283.8 555.9,287.5 556.3,283.4 556.7,287.9 557.1,284.4 557.5,288.1 558.0,284.7 558.4,288.4 558.8,285.1 559.2,289.4 559.6,285.8 560.1,290.6 560.5,286.7 560.9,291.4 561.3,287.4 561.7,292.2 562.2,288.4 562.6,292.8 563.0,289.4 563.4,294.4 563.8,291.1 564.3,295.6 564.7,291.4 565.1,295.8 565.5,292.0 565.9,296.0 566.4,292.5 566.8,296.5 567.2,293.2 567.6,296.0 568.0,293.3 568.5,296.9 568.9,293.3 569.3,297.6 569.7,294.0 570.1,298.1 570.6,295.2 571.0,299.1 571.4,296.6 571.8,300.3 572.2,297.6 572.7,302.0 573.1,298.5 573.5,302.4 573.9,298.5 574.3,303.8 574.8,298.9 575.2,303.2 575.6,299.6 576.0,303.7 576.4,300.2 576.9,303.9 577.3,301.1 577.7,304.1 578.1,301.6 578.5,305.3 579.0,302.4 579.4,306.3 579.8,302.6 580.2,307.2 580.6,303.9 581.1,307.6 581.5,304.8 581.9,308.1 582.3,305.1 582.7,309.4 583.2,306.3 583.6,309.9 584.0,306.8 584.4,310.4 584.8,307.5 585.3,311.2 585.7,308.1 586.1,311.6 586.5,307.2 586.9,311.3 587.4,307.4 587.8,312.2 588.2,308.2 588.6,313.0 589.0,309.4 589.5,314.1 589.9,311.0 590.3,315.7 590.7,311.9 591.1,316.3 591.6,313.2 592.0,316.5 592.4,314.7 592.8,318.0 593.2,314.9 593.7,318.2 594.1,315.0 594.5,319.3 594.9,315.2 595.3,319.4 595.8,316.0 596.2,320.0 596.6,316.0 597.0,321.4 597.4,316.9 597.9,322.1 598.3,318.2 598.7,323.1 599.1,319.3 599.5,323.5 600.0,321.1 600.4,324.3 600.8,321.2 601.2,325.6 601.6,322.1 602.1,326.5 602.5,323.0 602.9,327.9 603.3,323.4 603.7,327.8 604.2,323.9 604.6,328.6 605.0,324.5 605.4,328.6 605.8,324.8 606.3,328.9 606.7,325.2 607.1,330.1 607.5,325.6 607.9,330.8 608.4,325.2 608.8,331.4 609.2,326.1 609.6,331.1 610.0,327.3 610.5,331.7 610.9,328.0 611.3,331.8 611.7,328.5 612.1,332.5 612.6,329.5 613.0,333.5 613.4,329.5 613.8,334.6 614.2,330.3 614.7,335.4 615.1,331.3 615.5,336.8 615.9,331.9 616.3,336.6 616.8,333.8 617.2,337.2 617.6,334.6 618.0,338.6 618.4,334.9 618.9,338.3 619.3,335.5 619.7,340.1 620.1,336.0 620.5,339.8 621.0,336.0 621.4,340.5 621.8,336.2 622.2,341.4 622.6,337.5 623.1,341.7 623.5,338.4 623.9,342.8 624.3,339.1 624.7,343.1 625.2,340.0 625.6,344.2 626.0,341.0 626.4,344.7 626.8,341.4 627.3,345.2 627.7,341.8 628.1,345.8 628.5,342.3 628.9,346.9 629.4,342.8 629.8,347.4 630.2,343.7 630.6,347.7 631.0,344.1 631.5,347.9 631.9,344.9 632.3,348.8 632.7,345.5 633.1,348.8 633.6,346.0 634.0,350.1 634.4,347.3 634.8,352.0 635.2,348.9 635.7,352.7 636.1,350.0 636.5,353.8 636.9,351.2 637.3,354.4 637.8,351.3 638.2,354.8 638.6,351.7 639.0,355.2 639.4,352.2 639.9,355.5 640.3,352.4 640.7,356.4 641.1,353.1 641.5,357.0 642.0,353.9 642.4,358.0 642.8,354.1 643.2,357.8 643.6,355.0 644.1,358.4 644.5,354.8 644.9,359.0 645.3,356.3 645.7,358.9 646.2,356.2 646.6,360.1 647.0,357.9 647.4,361.2 647.8,358.5 648.3,361.4 648.7,358.6 649.1,361.7 649.5,360.0 649.9,363.3 650.4,360.4 650.8,363.4 651.2,360.7 651.6,364.9 652.0,361.7 652.5,366.6 652.9,362.2 653.3,366.8 653.7,362.9 654.1,366.8 654.6,364.4 655.0,367.4 655.4,365.2 655.8,368.2 656.2,366.0 656.7,369.3 657.1,366.3 657.5,370.2 657.9,366.9 658.3,370.7 658.8,367.5 659.2,371.3 659.6,368.3 660.0,371.0 660.4,368.7 660.9,371.6 661.3,368.8 661.7,373.2 662.1,369.6 662.5,373.2 663.0,369.6 663.4,374.3 663.8,371.8 664.2,375.4 664.6,373.2 665.1,376.2 665.5,374.0 665.9,377.3 666.3,375.5 666.7,378.8 668.1,376.1 665.7,378.7 668.6,376.9 666.4,379.3 669.4,377.4 666.7,380.2 669.8,378.2 667.2,380.9 670.3,379.0 667.9,381.5 671.2,379.4 668.6,382.1 671.8,380.2 669.2,382.7 672.0,381.2 669.7,383.4 672.7,381.8 670.2,384.1 673.2,382.6 670.7,384.9 673.9,383.1 671.2,385.6 674.2,384.0 671.7,386.3 674.8,384.7 672.2,387.1 675.3,385.5 672.8,387.8 675.6,386.4 673.2,388.5 676.1,387.1 673.5,389.4 676.9,387.7 674.3,389.9 677.4,388.5 674.5,390.8 677.6,389.5 675.0,391.5 678.0,390.3 675.7,392.1 678.8,390.9 676.1,392.8 679.2,391.8 676.5,393.5 679.4,392.8 676.5,394.4 679.8,393.6 677.0,395.1 679.8,394.6 677.4,395.9 680.2,395.4 677.6,396.7 680.5,396.3 678.1,397.5 680.7,397.2 678.1,398.4 680.8,398.1 678.7,399.1 680.9,399.0 678.7,400.0 681.1,399.9 678.9,400.9 681.1,400.9 679.2,401.8 681.5,401.7 679.6,402.6 681.6,402.6 679.7,403.5 681.7,403.5 680.1,404.3 682.0,404.4 680.2,405.2 682.1,405.3 680.5,406.0 682.2,406.2 680.6,406.9 682.3,407.1 680.9,407.7 682.3,408.0 681.0,408.6 682.5,408.9 681.2,409.5 682.5,409.8 681.3,410.4 682.7,410.7 681.6,411.3 682.7,411.6 681.6,412.2 682.8,412.5 681.9,413.0 682.8,413.4 681.9,413.9 683.0,414.3 682.1,414.8 683.1,415.2 682.3,415.7 683.1,416.1 682.4,416.6 683.2,417.0 682.6,417.5 683.2,417.9 682.7,418.4 683.3,418.8 682.8,419.3 683.4,419.7 683.0,420.1 683.4,420.6 683.1,421.0 683.5,421.5 683.2,421.9 683.5,422.4 683.3,422.8 683.6,423.3 683.4,423.7 683.7,424.2 683.5,424.6 683.7,425.1 683.6,425.5 683.8,426.0 683.7,426.4 683.8,426.8 683.8,427.3 683.9,427.7 683.9,428.2 684.0,428.6 683.9,429.1 684.0,429.5 684.0,430.0 684.0,430.4 684.1,430.9 684.1,431.3 684.1,431.8 684.1,432.2 684.2,432.7 684.2,433.1 684.2,433.6 684.2,434.0 684.3,434.5 684.3,434.9 684.3,435.4 684.3,435.8 684.3,436.3 684.4,436.7 684.4,437.2 684.4,437.6 684.4,438.1 684.4,438.5 684.5,439.0 684.5,439.4 684.5,439.9 684.5,440.3 684.5,440.8 684.6,441.2 684.6,441.7 684.6,442.1 684.6,442.6 684.6,443.0 684.6,443.5 684.7,443.9 684.7,444.4 684.7,444.8 684.7,445.3 684.7,445.7 684.7,446.2 684.7,446.6 684.7,447.1 684.7,447.5 684.7,448.0 684.8,448.4 684.8,448.9 684.8,449.3 684.8,449.8 684.8,450.2 684.8,450.7 684.8,451.1 684.8,451.6 684.8,452.0 684.8,452.5 684.8,452.9 684.8,453.4 684.9,453.8 684.9,454.3 684.9,454.7 684.9,455.2 684.9,455.6 684.9,456.1 684.9,456.5 684.9,457.0 684.9,457.4 684.9,457.9 684.9,458.3 684.9,458.8 685.0,459.2 685.0,459.7 685.0,460.1 685.0,460.6 685.0,461.0 685.0,461.5 685.0,461.9 685.0,462.4 685.0,462.8 685.0,463.3 685.0,463.7 685.0,464.2 685.0,464.6 685.0,465.1 685.0,465.5 685.0,466.0 685.0,466.4 685.0,466.9 685.0,467.3 685.0,467.8 685.0,468.2 685.0,468.7 685.0,469.1 685.0,469.6 685.0,470.0 685.0,470.5 685.0,470.9 685.0,471.4 685.0,471.8 685.0,472.3 685.0,472.7 685.0,473.2 685.0,473.6 685.0,474.1 685.0,474.5 685.0,475.0 685.0,475.4 685.0,475.9 685.0,476.3 685.0,476.8 685.0,477.2 685.1,477.7 685.1,478.1 685.1,478.6 685.1,479.0 685.1,479.5 685.1,479.9 685.1,480.4 685.1,480.8 685.1,481.3 685.1,481.7 685.1,482.2 685.1,482.6 685.1,483.1 685.1,483.5 685.1,484.0 685.1,484.4 685.1,484.9 685.1,485.3 685.1,485.8 685.1,486.2 685.1,486.7 685.1,487.1 685.1,487.6 685.1,488.0 685.1,488.5 685.1,488.9 685.1,489.4 685.1,489.8 685.1,490.3 685.1,490.7 685.1,491.2 685.1,491.6 685.1,492.1 685.1,492.5 685.1,493.0 685.1,493.4 685.1,493.9 685.1,494.3 685.1,494.8 685.1,495.2 685.1,495.7 685.1,496.1 685.1,496.6 685.1,497.0 685.1,497.5 685.1,497.9 685.1,498.4 685.1,498.8 685.1,499.1 685.1,499.4" fill="none" stroke="#D95319" stroke-width="4.0" stroke-linejoin="round" stroke-linecap="butt"/>
<polyline points="156.0,93.0 186.1,92.1 203.6,102.3 216.1,91.5 225.8,91.5 233.7,97.7 240.4,102.9 246.2,107.6 251.3,111.6 255.9,126.0 260.0,134.3 263.8,126.0 267.2,117.2 270.5,123.0 273.5,131.2 276.3,137.4 278.9,126.0 281.4,120.9 283.7,128.0 285.9,134.3 288.0,136.4 290.1,135.3 292.0,141.5 293.8,148.8 295.6,149.8 297.3,141.5 298.9,136.4 300.5,134.3 302.0,133.3 303.5,141.5 304.9,150.9 306.3,137.6 306.7,136.7 307.2,135.7 307.6,136.0 308.0,138.1 308.4,141.4 308.8,144.6 309.3,146.4 309.7,146.2 310.1,144.3 310.5,141.7 310.9,139.4 311.4,138.2 311.8,138.7 312.2,140.9 312.6,143.7 313.0,145.3 313.5,144.3 313.9,141.1 314.3,137.4 314.7,134.9 315.1,134.0 315.6,134.5 316.0,136.2 316.4,139.3 316.8,143.8 317.2,148.6 317.7,151.5 318.1,151.2 318.5,148.4 318.9,145.0 319.3,142.8 319.8,141.9 320.2,142.1 320.6,142.4 321.0,142.2 321.4,141.3 321.9,140.2 322.3,139.4 322.7,138.7 323.1,137.8 323.5,136.9 324.0,137.3 324.4,139.6 324.8,142.9 325.2,144.9 325.6,145.2 326.1,145.2 326.5,145.8 326.9,145.9 327.3,144.8 327.7,144.2 328.2,145.7 328.6,149.6 329.0,153.9 329.4,156.3 329.8,155.7 330.3,153.1 330.7,150.6 331.1,149.9 331.5,150.0 331.9,148.9 332.4,146.6 332.8,145.1 333.2,145.1 333.6,146.2 334.0,147.9 334.5,149.4 334.9,149.7 335.3,150.0 335.7,152.6 336.1,156.7 336.6,159.5 337.0,159.2 337.4,156.0 337.8,151.8 338.2,149.0 338.7,149.2 339.1,152.9 339.5,158.8 339.9,162.9 340.3,162.8 340.8,159.3 341.2,153.7 341.6,148.2 342.0,145.5 342.4,147.6 342.9,153.6 343.3,157.6 343.7,156.5 344.1,155.0 344.5,155.6 345.0,158.2 345.4,159.5 345.8,159.1 346.2,156.8 346.6,151.9 347.1,152.1 347.5,157.9 347.9,159.7 348.3,157.8 348.7,158.9 349.2,161.7 349.6,160.6 350.0,155.2 350.4,150.4 350.8,151.8 351.3,159.7 351.7,158.2 352.1,148.7 352.5,144.7 352.9,144.6 353.4,146.6 353.8,149.6 354.2,151.1 354.6,152.2 355.0,151.2 355.5,147.2 355.9,145.4 356.3,145.9 356.7,147.5 357.1,152.7 357.6,158.6 358.0,157.3 358.4,156.9 358.8,158.2 359.2,158.0 359.7,157.5 360.1,155.2 360.5,151.7 360.9,150.2 361.3,152.3 361.8,159.2 362.2,167.8 362.6,169.9 363.0,168.3 363.4,163.6 363.9,157.7 364.3,155.6 364.7,157.6 365.1,161.2 365.5,164.5 366.0,164.2 366.4,158.6 366.8,155.0 367.2,155.6 367.6,155.1 368.1,156.1 368.5,163.2 368.9,167.2 369.3,162.8 369.7,160.2 370.2,161.1 370.6,162.2 371.0,159.9 371.4,158.4 371.8,162.2 372.3,168.1 372.7,169.9 373.1,169.0 373.5,168.2 373.9,166.7 374.4,165.4 374.8,163.8 375.2,165.8 375.6,172.7 376.0,173.1 376.5,168.2 376.9,165.6 377.3,163.4 377.7,161.6 378.1,163.1 378.6,165.1 379.0,166.3 379.4,167.1 379.8,164.6 380.2,164.0 380.7,169.4 381.1,174.2 381.5,171.9 381.9,168.0 382.3,167.7 382.8,168.8 383.2,168.3 383.6,170.8 384.0,175.5 384.4,177.6 384.9,175.2 385.3,169.0 385.7,165.7 386.1,166.9 386.5,170.7 387.0,172.3 387.4,169.6 387.8,170.1 388.2,174.1 388.6,172.3 389.1,169.1 389.5,171.5 389.9,175.5 390.3,174.4 390.7,171.4 391.2,170.0 391.6,170.3 392.0,172.6 392.4,175.5 392.8,177.9 393.3,177.7 393.7,175.7 394.1,174.8 394.5,176.4 394.9,178.2 395.4,179.6 395.8,181.3 396.2,181.7 396.6,178.8 397.0,174.6 397.5,173.8 397.9,176.2 398.3,180.0 398.7,182.9 399.1,183.3 399.6,180.4 400.0,175.9 400.4,175.0 400.8,179.1 401.2,187.3 401.7,190.0 402.1,181.9 402.5,176.7 402.9,179.0 403.3,183.6 403.8,183.4 404.2,181.2 404.6,180.8 405.0,183.0 405.4,183.6 405.9,181.2 406.3,180.6 406.7,183.6 407.1,183.7 407.5,181.8 408.0,182.1 408.4,182.8 408.8,182.2 409.2,182.0 409.6,181.8 410.1,181.3 410.5,182.3 410.9,187.5 411.3,193.6 411.7,189.3 412.2,186.3 412.6,189.7 413.0,189.2 413.4,184.4 413.8,185.0 414.3,185.5 414.7,183.8 415.1,183.6 415.5,186.3 415.9,190.4 416.4,191.1 416.8,191.2 417.2,188.3 417.6,186.3 418.0,186.4 418.5,186.9 418.9,187.8 419.3,189.2 419.7,188.4 420.1,184.3 420.6,182.7 421.0,183.7 421.4,184.8 421.8,185.5 422.2,186.3 422.7,187.4 423.1,190.4 423.5,192.8 423.9,192.5 424.3,192.6 424.8,190.6 425.2,187.0 425.6,186.3 426.0,186.0 426.4,187.1 426.9,190.0 427.3,191.9 427.7,195.0 428.1,198.2 428.5,195.9 429.0,197.0 429.4,198.3 429.8,196.0 430.2,195.1 430.6,196.7 431.1,201.2 431.5,204.8 431.9,200.4 432.3,192.9 432.7,189.7 433.2,192.0 433.6,194.0 434.0,194.4 434.4,194.3 434.8,193.3 435.3,193.4 435.7,194.3 436.1,192.8 436.5,192.6 436.9,194.2 437.4,199.3 437.8,199.7 438.2,199.8 438.6,200.5 439.0,204.6 439.5,201.9 439.9,199.1 440.3,200.4 440.7,203.0 441.1,200.6 441.6,201.2 442.0,202.0 442.4,205.4 442.8,203.8 443.2,202.4 443.7,201.4 444.1,202.8 444.5,201.5 444.9,205.3 445.3,205.5 445.8,203.8 446.2,198.9 446.6,199.6 447.0,200.1 447.4,203.1 447.9,201.7 448.3,204.0 448.7,204.8 449.1,205.7 449.5,202.2 450.0,204.9 450.4,205.6 450.8,207.0 451.2,205.8 451.6,209.9 452.1,209.6 452.5,211.6 452.9,210.4 453.3,210.6 453.7,207.2 454.2,208.8 454.6,207.6 455.0,208.9 455.4,205.8 455.8,208.4 456.3,208.3 456.7,211.6 457.1,209.3 457.5,208.7 457.9,205.6 458.4,212.0 458.8,211.4 459.2,213.6 459.6,211.0 460.0,212.8 460.5,208.3 460.9,210.0 461.3,208.5 461.7,209.9 462.1,209.9 462.6,211.7 463.0,209.9 463.4,214.2 463.8,212.1 464.2,214.7 464.7,213.7 465.1,215.2 465.5,212.0 465.9,215.1 466.3,213.3 466.8,216.9 467.2,212.8 467.6,216.2 468.0,213.3 468.4,219.9 468.9,216.1 469.3,219.0 469.7,216.3 470.1,219.9 470.5,216.2 471.0,218.5 471.4,215.3 471.8,221.2 472.2,217.2 472.6,222.1 473.1,218.8 473.5,222.8 473.9,220.3 474.3,222.9 474.7,220.3 475.2,223.7 475.6,222.1 476.0,224.7 476.4,221.1 476.8,225.2 477.3,221.4 477.7,226.2 478.1,223.8 478.5,226.7 478.9,224.0 479.4,227.2 479.8,224.7 480.2,227.2 480.6,224.2 481.0,228.9 481.5,224.3 481.9,231.1 482.3,226.0 482.7,230.9 483.1,225.4 483.6,230.5 484.0,225.7 484.4,230.6 484.8,226.0 485.2,230.6 485.7,228.5 486.1,232.8 486.5,229.8 486.9,233.1 487.3,229.7 487.8,233.6 488.2,231.2 488.6,234.3 489.0,231.6 489.4,234.5 489.9,231.8 490.3,235.7 490.7,232.6 491.1,237.9 491.5,233.9 492.0,238.4 492.4,234.1 492.8,239.3 493.2,235.7 493.6,239.5 494.1,234.7 494.5,240.1 494.9,235.6 495.3,239.2 495.7,235.8 496.2,240.7 496.6,236.4 497.0,240.5 497.4,237.1 497.8,241.5 498.3,239.0 498.7,242.9 499.1,240.0 499.5,244.1 499.9,239.8 500.4,243.3 500.8,239.3 501.2,244.6 501.6,241.3 502.0,244.9 502.5,241.5 502.9,245.1 503.3,241.0 503.7,246.7 504.1,242.9 504.6,246.6 505.0,243.8 505.4,247.3 505.8,245.1 506.2,247.7 506.7,245.1 507.1,249.7 507.5,246.1 507.9,250.4 508.3,246.9 508.8,251.3 509.2,247.4 509.6,251.9 510.0,247.0 510.4,252.3 510.9,248.2 511.3,251.8 511.7,249.5 512.1,253.0 512.5,249.3 513.0,253.1 513.4,249.8 513.8,254.4 514.2,250.9 514.6,254.9 515.1,251.1 515.5,255.6 515.9,251.1 516.3,256.3 516.7,252.1 517.2,256.9 517.6,253.6 518.0,258.0 518.4,253.9 518.8,258.6 519.3,255.4 519.7,258.3 520.1,255.5 520.5,259.5 520.9,256.6 521.4,259.6 521.8,257.0 522.2,260.9 522.6,257.2 523.0,261.0 523.5,257.9 523.9,261.7 524.3,258.8 524.7,262.5 525.1,259.6 525.6,263.5 526.0,260.4 526.4,264.8 526.8,261.1 527.2,265.5 527.7,261.8 528.1,266.7 528.5,262.5 528.9,267.9 529.3,263.3 529.8,268.7 530.2,263.6 530.6,269.1 531.0,264.9 531.4,269.8 531.9,265.7 532.3,270.1 532.7,267.1 533.1,270.3 533.5,267.3 534.0,270.1 534.4,267.2 534.8,271.1 535.2,267.8 535.6,271.9 536.1,268.5 536.5,272.4 536.9,269.2 537.3,273.5 537.7,269.9 538.2,273.6 538.6,270.6 539.0,273.9 539.4,270.7 539.8,274.0 540.3,270.4 540.7,274.7 541.1,270.4 541.5,275.6 541.9,270.3 542.4,275.2 542.8,271.7 543.2,275.9 543.6,273.3 544.0,277.1 544.5,273.9 544.9,278.1 545.3,275.2 545.7,278.8 546.1,275.6 546.6,279.5 547.0,276.0 547.4,279.8 547.8,277.5 548.2,280.0 548.7,277.5 549.1,280.5 549.5,277.7 549.9,281.3 550.3,278.3 550.8,282.6 551.2,278.7 551.6,282.6 552.0,279.2 552.4,283.9 552.9,280.6 553.3,284.8 553.7,281.1 554.1,285.3 554.5,281.7 555.0,286.4 555.4,282.9 555.8,287.6 556.2,283.6 556.6,288.5 557.1,284.3 557.5,289.5 557.9,285.7 558.3,291.3 558.7,286.2 559.2,290.9 559.6,286.7 560.0,291.1 560.4,287.2 560.8,291.5 561.3,287.3 561.7,291.4 562.1,287.6 562.5,291.6 562.9,288.6 563.4,292.4 563.8,289.9 564.2,293.5 564.6,290.1 565.0,294.5 565.5,292.0 565.9,295.3 566.3,291.9 566.7,296.5 567.1,292.6 567.6,297.6 568.0,293.9 568.4,298.3 568.8,293.8 569.2,298.7 569.7,294.7 570.1,298.6 570.5,294.1 570.9,299.1 571.3,295.5 571.8,299.8 572.2,296.5 572.6,300.6 573.0,297.1 573.4,302.0 573.9,298.7 574.3,302.6 574.7,299.0 575.1,304.1 575.5,299.4 576.0,303.9 576.4,300.7 576.8,304.6 577.2,300.8 577.6,304.3 578.1,300.8 578.5,304.8 578.9,301.4 579.3,305.5 579.7,302.5 580.2,306.3 580.6,303.7 581.0,307.0 581.4,305.3 581.8,308.6 582.3,306.5 582.7,309.3 583.1,305.9 583.5,309.6 583.9,306.3 584.4,310.3 584.8,307.2 585.2,310.9 585.6,308.3 586.0,311.1 586.5,308.8 586.9,312.8 587.3,309.0 587.7,314.4 588.1,310.0 588.6,315.0 589.0,309.5 589.4,315.1 589.8,311.0 590.2,316.1 590.7,311.9 591.1,316.1 591.5,312.8 591.9,316.1 592.3,313.2 592.8,316.9 593.2,313.9 593.6,318.0 594.0,314.7 594.4,318.5 594.9,314.9 595.3,318.9 595.7,315.8 596.1,319.7 596.5,317.6 597.0,320.2 597.4,317.9 597.8,320.9 598.2,317.9 598.6,322.2 599.1,318.6 599.5,323.4 599.9,319.4 600.3,324.3 600.7,319.9 601.2,325.3 601.6,321.0 602.0,325.9 602.4,321.2 602.8,325.8 603.3,322.0 603.7,326.3 604.1,322.3 604.5,326.3 604.9,322.7 605.4,326.3 605.8,323.5 606.2,327.6 606.6,324.3 607.0,327.6 607.5,325.3 607.9,328.7 608.3,326.2 608.7,329.9 609.1,327.5 609.6,330.8 610.0,328.0 610.4,331.4 610.8,328.9 611.2,332.7 611.7,329.7 612.1,332.6 612.5,330.4 612.9,332.7 613.3,331.0 613.8,334.0 614.2,331.5 614.6,334.6 615.0,331.3 615.4,335.0 615.9,331.4 616.3,335.6 616.7,332.2 617.1,336.2 617.5,332.9 618.0,336.9 618.4,333.4 618.8,338.5 619.2,334.6 619.6,338.8 620.1,335.8 620.5,339.7 620.9,336.8 621.3,340.9 621.7,337.3 622.2,340.9 622.6,338.4 623.0,341.6 623.4,338.6 623.8,342.3 624.3,339.1 624.7,342.9 625.1,339.0 625.5,344.0 625.9,340.4 626.4,344.6 626.8,341.2 627.2,345.7 627.6,342.5 628.0,346.5 628.5,342.7 628.9,346.2 629.3,342.6 629.7,346.7 630.1,343.3 630.6,347.0 631.0,343.7 631.4,347.5 631.8,344.6 632.2,348.6 632.7,345.5 633.1,349.5 633.5,346.4 633.9,350.2 634.3,346.9 634.8,350.7 635.2,347.5 635.6,351.9 636.0,348.2 636.4,352.1 636.9,349.5 637.3,352.7 637.7,349.9 638.1,354.0 638.5,351.2 639.0,354.5 639.4,350.7 639.8,355.0 640.2,352.2 640.6,356.4 641.1,353.4 641.5,357.0 641.9,353.9 642.3,357.0 642.7,354.2 643.2,357.6 643.6,354.3 644.0,358.3 644.4,354.7 644.8,358.4 645.3,355.9 645.7,358.5 646.1,356.8 646.5,359.6 646.9,358.0 647.4,360.5 647.8,358.5 648.2,361.0 648.6,358.7 649.0,361.8 649.5,359.6 649.9,362.3 650.3,360.5 650.7,363.9 651.1,361.2 651.6,364.9 652.0,362.3 652.4,365.5 652.8,362.8 653.2,366.8 653.7,363.7 654.1,366.5 654.5,364.3 654.9,367.3 655.3,364.7 655.8,368.1 656.2,364.8 656.6,368.6 657.0,364.9 657.4,369.1 657.9,365.5 658.3,369.7 658.7,366.3 659.1,370.6 659.5,367.4 660.0,371.2 660.4,368.1 660.8,372.7 661.2,369.4 661.6,373.4 662.1,369.8 662.5,374.4 662.9,371.3 663.3,375.6 663.7,372.3 664.2,376.7 664.6,372.9 665.0,377.2 665.4,374.3 665.8,378.1 666.3,375.3 666.7,378.6 668.0,376.2 665.8,378.7 668.5,377.0 666.5,379.2 669.2,377.6 666.9,380.0 669.9,378.1 667.5,380.7 670.4,378.9 668.3,381.2 670.8,379.7 668.7,382.0 671.6,380.3 669.1,382.8 672.1,381.1 669.5,383.5 672.7,381.8 670.3,384.1 673.0,382.7 670.8,384.8 673.7,383.3 671.4,385.5 674.2,384.1 671.7,386.4 674.7,384.8 672.4,386.9 675.1,385.7 672.9,387.6 675.9,386.2 673.4,388.4 676.1,387.2 674.0,389.1 676.8,387.8 674.2,390.0 677.2,388.6 674.7,390.7 677.5,389.5 675.3,391.3 678.0,390.3 675.6,392.2 678.5,391.1 676.1,392.8 678.8,392.0 676.4,393.6 679.5,392.7 676.7,394.3 679.5,393.8 677.2,395.0 679.7,394.6 677.7,395.8 680.1,395.5 677.8,396.6 680.5,396.3 678.1,397.5 680.4,397.3 678.6,398.2 680.8,398.1 678.9,399.1 681.0,399.0 679.1,400.0 681.1,399.9 679.4,400.8 681.3,400.8 679.5,401.7 681.4,401.7 679.7,402.6 681.5,402.6 679.9,403.4 681.6,403.5 680.3,404.3 681.9,404.4 680.4,405.1 682.0,405.3 680.7,406.0 682.1,406.2 680.8,406.9 682.3,407.1 681.0,407.7 682.4,408.0 681.2,408.6 682.4,408.9 681.4,409.5 682.6,409.8 681.5,410.4 682.6,410.7 681.7,411.3 682.8,411.6 681.8,412.1 682.8,412.5 682.0,413.0 682.9,413.4 682.2,413.9 683.0,414.3 682.3,414.8 683.1,415.2 682.4,415.7 683.1,416.1 682.5,416.6 683.2,417.0 682.7,417.5 683.3,417.9 682.8,418.4 683.3,418.8 682.9,419.3 683.4,419.7 683.1,420.1 683.5,420.6 683.2,421.0 683.5,421.5 683.3,421.9 683.6,422.4 683.4,422.8 683.7,423.3 683.5,423.7 683.7,424.2 683.6,424.6 683.8,425.0 683.7,425.5 683.8,425.9 683.7,426.4 683.9,426.8 683.8,427.3 684.0,427.7 683.9,428.2 684.0,428.6 684.0,429.1 684.0,429.5 684.1,430.0 684.1,430.4 684.1,430.9 684.1,431.3 684.2,431.8 684.2,432.2 684.2,432.7 684.2,433.1 684.3,433.6 684.3,434.0 684.3,434.5 684.3,434.9 684.4,435.4 684.4,435.8 684.4,436.3 684.4,436.7 684.4,437.2 684.5,437.6 684.5,438.1 684.5,438.5 684.5,439.0 684.5,439.4 684.5,439.9 684.6,440.3 684.6,440.8 684.6,441.2 684.6,441.7 684.6,442.1 684.7,442.6 684.7,443.0 684.7,443.5 684.7,443.9 684.7,444.4 684.7,444.8 684.7,445.3 684.7,445.7 684.7,446.2 684.8,446.6 684.8,447.1 684.8,447.5 684.8,448.0 684.8,448.4 684.8,448.9 684.8,449.3 684.8,449.8 684.8,450.2 684.8,450.7 684.8,451.1 684.8,451.6 684.9,452.0 684.9,452.5 684.9,452.9 684.9,453.4 684.9,453.8 684.9,454.3 684.9,454.7 684.9,455.2 684.9,455.6 684.9,456.1 684.9,456.5 684.9,457.0 685.0,457.4 685.0,457.9 685.0,458.3 685.0,458.8 685.0,459.2 685.0,459.7 685.0,460.1 685.0,460.6 685.0,461.0 685.0,461.5 685.0,461.9 685.0,462.4 685.0,462.8 685.0,463.3 685.0,463.7 685.0,464.2 685.0,464.6 685.0,465.1 685.0,465.5 685.0,466.0 685.0,466.4 685.0,466.9 685.0,467.3 685.0,467.8 685.0,468.2 685.0,468.7 685.0,469.1 685.0,469.6 685.0,470.0 685.0,470.5 685.0,470.9 685.0,471.4 685.0,471.8 685.0,472.3 685.0,472.7 685.0,473.2 685.1,473.6 685.1,474.1 685.1,474.5 685.1,475.0 685.1,475.4 685.1,475.9 685.1,476.3 685.1,476.8 685.1,477.2 685.1,477.7 685.1,478.1 685.1,478.6 685.1,479.0 685.1,479.5 685.1,479.9 685.1,480.4 685.1,480.8 685.1,481.3 685.1,481.7 685.1,482.2 685.1,482.6 685.1,483.1 685.1,483.5 685.1,484.0 685.1,484.4 685.1,484.9 685.1,485.3 685.1,485.8 685.1,486.2 685.1,486.7 685.1,487.1 685.1,487.6 685.1,488.0 685.1,488.5 685.1,488.9 685.1,489.4 685.1,489.8 685.1,490.3 685.1,490.7 685.1,491.2 685.1,491.6 685.1,492.1 685.1,492.5 685.1,493.0 685.1,493.4 685.1,493.9 685.1,494.3 685.1,494.8 685.1,495.2 685.1,495.7 685.1,496.1 685.1,496.6 685.1,497.0 685.1,497.5 685.1,497.9 685.1,498.4 685.1,498.8 685.1,499.1 685.1,499.4" fill="none" stroke="#EDB120" stroke-width="4.0" stroke-linejoin="round" stroke-linecap="butt"/>
<line x1="115.50" y1="105.38" x2="715.30" y2="105.38" stroke="#FF0000" stroke-width="4.0" stroke-dasharray="14.5 14.07"/>
</g>
<text x="115.20" y="527.20" font-size="23.5" text-anchor="middle">10<tspan font-size="18.8" dy="-10.8">-4</tspan></text>
<text x="314.93" y="527.20" font-size="23.5" text-anchor="middle">10<tspan font-size="18.8" dy="-10.8">-2</tspan></text>
<text x="515.27" y="527.20" font-size="23.5" text-anchor="middle">10<tspan font-size="18.8" dy="-10.8">0</tspan></text>
<text x="715.00" y="527.20" font-size="23.5" text-anchor="middle">10<tspan font-size="18.8" dy="-10.8">2</tspan></text>
<text x="105.70" y="37.00" font-size="23.5" text-anchor="end">10<tspan font-size="18.8" dy="-10.8">-5</tspan></text>
<text x="105.70" y="240.95" font-size="23.5" text-anchor="end">10<tspan font-size="18.8" dy="-10.8">-10</tspan></text>
<text x="105.70" y="444.90" font-size="23.5" text-anchor="end">10<tspan font-size="18.8" dy="-10.8">-15</tspan></text>
<text x="416.30" y="563.1" font-size="27.8" text-anchor="middle">Frequency (Hz)</text>
<text transform="translate(39.5 256.10) rotate(-90)" font-size="27.35" text-anchor="middle">ASD (rad/Hz<tspan font-size="21.6" dy="-13.1" letter-spacing="1.1">1/2</tspan><tspan dy="13.1">)</tspan></text>
<rect x="499.2" y="39.5" width="201.10" height="117.90" fill="#fff" stroke="#262626" stroke-width="1.35"/>
<line x1="504.9" y1="56.0" x2="564.4" y2="56.0" stroke="#0072BD" stroke-width="4.0"/>
<text x="568.4" y="64.90" font-size="21.33" fill="#000">pitch</text>
<line x1="504.9" y1="84.05" x2="564.4" y2="84.05" stroke="#D95319" stroke-width="4.0"/>
<text x="568.4" y="92.90" font-size="21.33" fill="#000">yaw</text>
<line x1="504.9" y1="112.4" x2="564.4" y2="112.4" stroke="#EDB120" stroke-width="4.0"/>
<text x="568.4" y="120.50" font-size="21.33" fill="#000">roll</text>
<line x1="504.9" y1="140.6" x2="564.4" y2="140.6" stroke="#FF0000" stroke-width="4.0" stroke-dasharray="14.5 14.07"/>
<text x="568.4" y="148.20" font-size="21.33" fill="#000">requirement</text>
</svg>
</body></html>
